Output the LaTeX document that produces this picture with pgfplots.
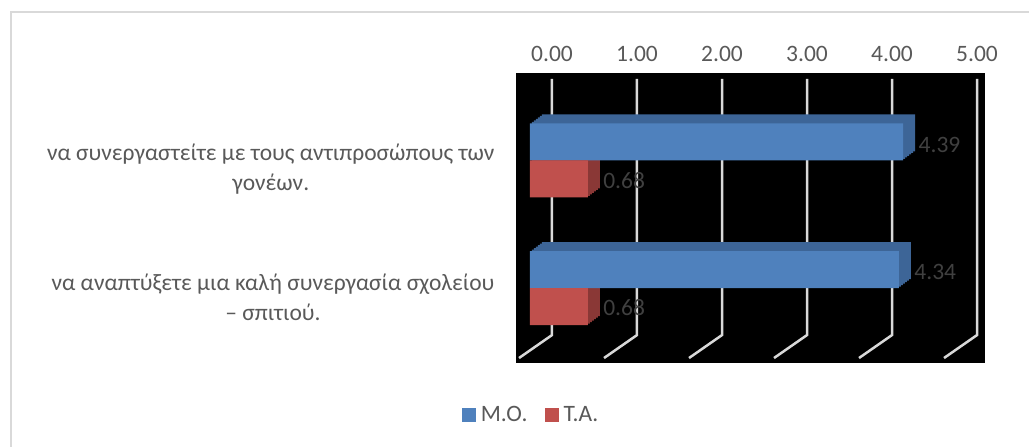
\documentclass[border=0pt]{standalone}
\usepackage{fontspec}
\setmainfont{Carlito}
\usepackage{pgfplots}
\usepackage{pgfplotstable}
\pgfplotsset{compat=1.18}
\definecolor{moblue}{HTML}{4F81BD}
\definecolor{mobluedk}{HTML}{3D6597}
\definecolor{tared}{HTML}{C0504D}
\definecolor{tareddk}{HTML}{8A3836}
\definecolor{txt}{HTML}{595959}
\definecolor{lbl}{HTML}{404040}
\definecolor{gridc}{HTML}{D9D9D9}
\definecolor{framec}{HTML}{D9D9D9}

\pgfplotstableread{
cat mo ta
0 4.34 0.68
1 4.39 0.68
}\bars

\pgfplotstableread{
x y
0 1.639
0 -0.369
-0.388 -0.549
nan nan
1 1.639
1 -0.369
0.612 -0.549
nan nan
2 1.639
2 -0.369
1.612 -0.549
nan nan
3 1.639
3 -0.369
2.612 -0.549
nan nan
4 1.639
4 -0.369
3.612 -0.549
nan nan
5 1.639
5 -0.369
4.612 -0.549
}\gridtab

\begin{document}
\begin{tikzpicture}[font=\fontsize{23.5}{30}\selectfont]
\useasboundingbox (0,0) rectangle (1029pt,447pt);
\draw[framec, line width=1.5pt] (11pt,-10pt) -- (11pt,435pt) -- (1040pt,435pt);
\begin{axis}[
  at={(516pt,84pt)}, anchor=south west,
  width=469pt, height=290pt, scale only axis,
  xmin=-0.4235, xmax=5.094, ymin=-0.588, ymax=1.686,
  axis background/.style={fill=black},
  axis line style={draw=none},
  major tick length=0pt,
  unbounded coords=jump,
  xtick={0,1,2,3,4,5}, xticklabel pos=upper,
  xticklabel style={text=txt, yshift=8pt, /pgf/number format/.cd, fixed, fixed zerofill, precision=2, assume math mode=true},
  ytick={0,1},
  yticklabels={{να αναπτύξετε μια καλή συνεργασία σχολείου\\– σπιτιού.},{να συνεργαστείτε με τους αντιπροσώπους των\\γονέων.}},
  yticklabel style={align=center, text=txt, yshift=-9pt, xshift=-18pt},
  legend style={at={(axis description cs:0.032,-0.179)}, anchor=center, draw=none, fill=none, text=txt, legend columns=2,
    /tikz/every odd column/.append style={column sep=3pt},
    /tikz/every even column/.append style={column sep=15pt}},
  legend image code/.code={\fill[#1] (0pt,-7pt) rectangle (14pt,7pt);},
]
\addplot[forget plot, gridc, line width=2.5pt, no markers, sharp plot] table[x=x,y=y] {\gridtab};
\pgfplotsinvokeforeach{1,2,3,4,5,6}{
  \addplot[forget plot, xbar, bar width=37pt, bar shift=18.5pt, fill=mobluedk, draw=none, xshift=-22pt+#1*2pt, yshift=#1*1.5pt] table[x=mo,y=cat] {\bars};
}
\pgfplotsinvokeforeach{1,2,3,4,5,6}{
  \addplot[forget plot, xbar, bar width=37pt, bar shift=-18.5pt, fill=tareddk, draw=none, xshift=-22pt+#1*2pt, yshift=#1*1.5pt] table[x=ta,y=cat] {\bars};
}
\addplot[forget plot, xbar, bar width=37pt, bar shift=18.5pt, fill=moblue, draw=none, xshift=-22pt,
  point meta=x, nodes near coords={\pgfmathprintnumber[fixed,fixed zerofill,precision=2,assume math mode=true]{\pgfplotspointmeta}},
  every node near coord/.append style={anchor=west, xshift=12pt, yshift=16pt, text=lbl}] table[x=mo,y=cat] {\bars};
\addplot[forget plot, xbar, bar width=37pt, bar shift=-18.5pt, fill=tared, draw=none, xshift=-22pt,
  point meta=x, nodes near coords={\pgfmathprintnumber[fixed,fixed zerofill,precision=2,assume math mode=true]{\pgfplotspointmeta}},
  every node near coord/.append style={anchor=west, xshift=12pt, yshift=-20pt, text=lbl}] table[x=ta,y=cat] {\bars};
\addlegendimage{fill=moblue, draw=none}
\addlegendentry{Μ.Ο.}
\addlegendimage{fill=tared, draw=none}
\addlegendentry{Τ.Α.}
\end{axis}
\end{tikzpicture}
\end{document}
